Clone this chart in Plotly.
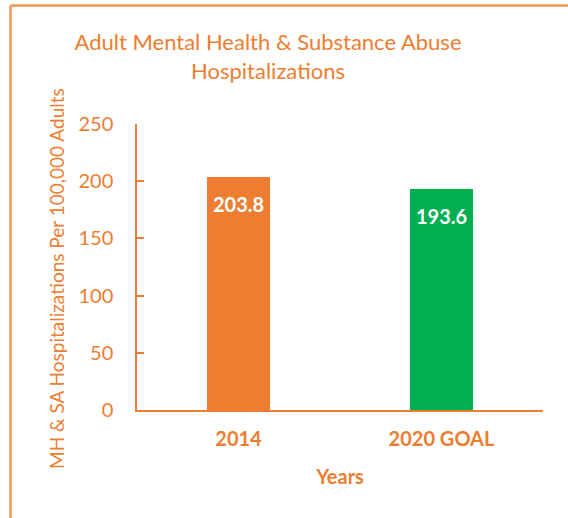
import plotly.graph_objects as go

categories = ["2014", "2020 GOAL"]
values = [203.8, 193.6]
bar_colors = ["#ED7D31", "#00B050"]
value_labels = ["203.8", "193.6"]
y_ticks = [0, 50, 100, 150, 200, 250]

ORANGE = "#ED7D31"
FONT = "Lato"

fig = go.Figure()
fig.add_trace(go.Bar(
    x=categories, y=values, marker_color=bar_colors, width=0.315,
    marker_line_width=0, hoverinfo="skip",
))

for i, (v, t) in enumerate(zip(values, value_labels)):
    fig.add_annotation(x=i, y=v, text="<b>%s</b>" % t, showarrow=False,
                       yanchor="top", yshift=-13,
                       font=dict(family=FONT, size=20, color="white"))

W, H = 568, 518
L, R, T, B = 137, 25, 124, 108
pw, ph = W - L - R, H - T - B

def px_x(x):
    return (x - L) / pw

def px_y(y):
    return (H - B - y) / ph

fig.add_annotation(xref="paper", yref="paper", x=px_x(56), y=px_y(279),
                   xanchor="center", yanchor="middle", textangle=-90,
                   showarrow=False,
                   text="MH & SA Hospitalizations Per 100,000 Adults",
                   font=dict(family=FONT, size=19, color=ORANGE))

border = dict(color="#F4944F", width=2.5)
fig.add_shape(type="line", xref="paper", yref="paper",
              x0=px_x(10.5), x1=px_x(10.5), y0=px_y(5.5), y1=px_y(530), line=border)
fig.add_shape(type="line", xref="paper", yref="paper",
              x0=px_x(10.5), x1=px_x(580), y0=px_y(5.5), y1=px_y(5.5), line=border)

fig.update_layout(
    width=W, height=H,
    margin=dict(l=L, r=R, t=T, b=B),
    paper_bgcolor="white", plot_bgcolor="white",
    showlegend=False,
    bargap=0,
    font=dict(family=FONT, color=ORANGE),
    title=dict(
        text="Adult Mental Health & Substance Abuse<br>Hospitalizations",
        x=268 / W, xanchor="center", xref="container",
        y=1 - 50 / H, yanchor="top", yref="container",
        font=dict(family=FONT, size=22, color=ORANGE),
    ),
    xaxis=dict(
        type="category",
        range=[-0.5, 1.5], showline=True, linecolor=ORANGE, linewidth=1.5,
        ticks="", showgrid=False, zeroline=False,
        tickfont=dict(family=FONT, size=20, color=ORANGE),
        ticktext=["<b>%s</b>" % c for c in categories], tickvals=categories,
        ticklabelstandoff=10,
        title=dict(text="<b>Years</b>", standoff=21,
                   font=dict(family=FONT, size=20, color=ORANGE)),
    ),
    yaxis=dict(
        range=[0, 250], tickvals=y_ticks, showline=True, linecolor=ORANGE,
        linewidth=1.5, ticks="inside", ticklen=7, tickcolor=ORANGE, tickwidth=1.5,
        showgrid=False, zeroline=False,
        ticklabelstandoff=18,
        tickfont=dict(family=FONT, size=20, color=ORANGE),
    ),
)

fig.write_html("out.html")
